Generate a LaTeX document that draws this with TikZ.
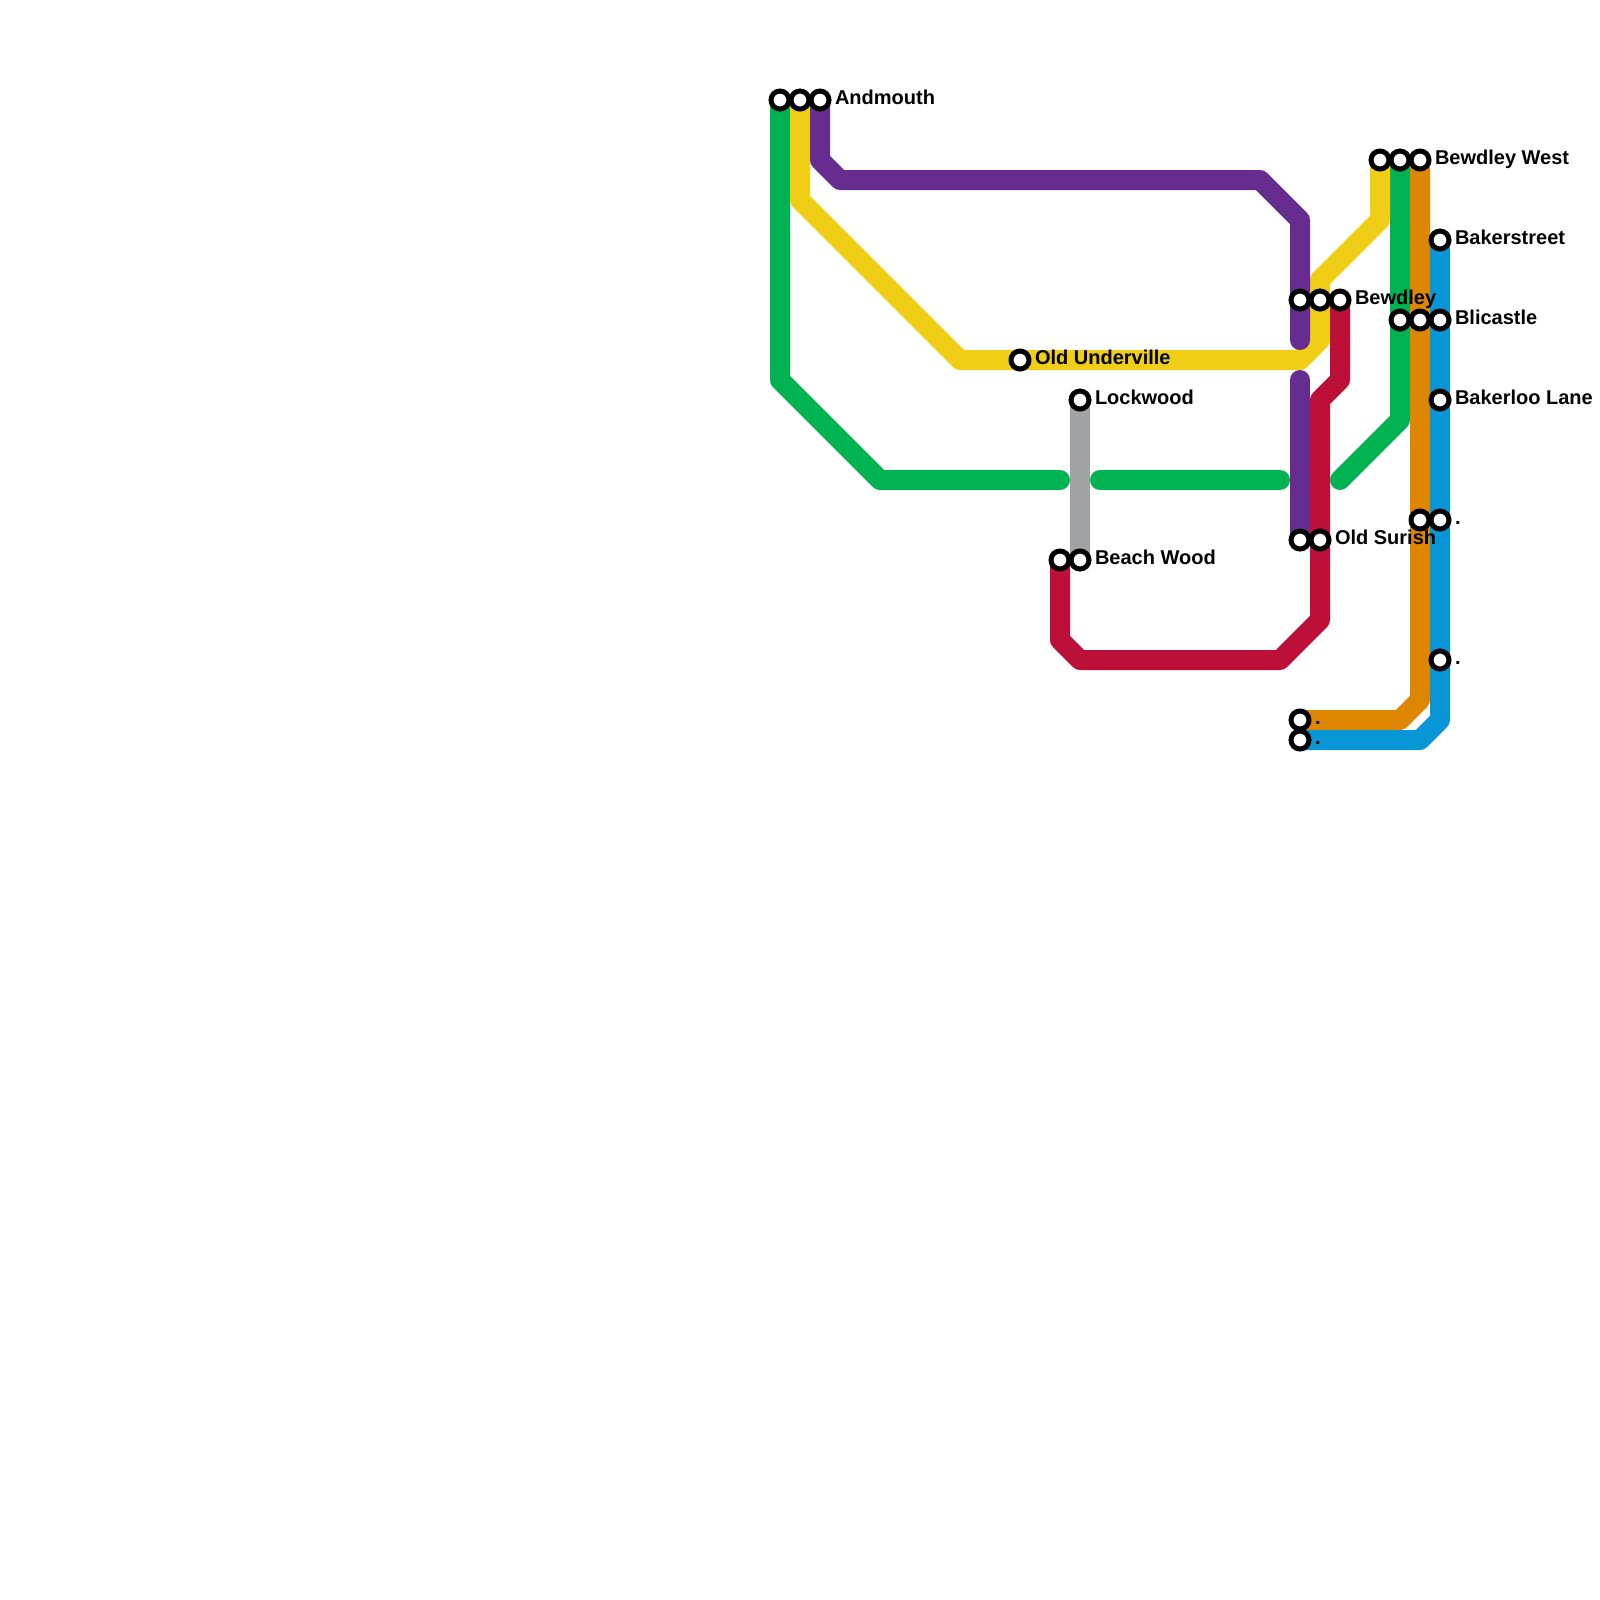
\documentclass[tikz,border=0pt]{standalone}
\usepackage{fontspec}
\setmainfont{Liberation Sans}
\usepackage{xcolor}
\usetikzlibrary{positioning, backgrounds}
\definecolor{gline}{HTML}{00B251}
\definecolor{yline}{HTML}{F0CE15}
\definecolor{pline}{HTML}{662C90}
\definecolor{rline}{HTML}{BD1038}
\definecolor{oline}{HTML}{DF8600}
\definecolor{bline}{HTML}{0896D7}
\definecolor{sline}{HTML}{A1A2A3}

\begin{document}
\begin{tikzpicture}[x=0.2cm, y=-0.2cm, node distance=0.2cm,
    stn/.style = {draw, circle, fill=white, line width=0.05cm, minimum size=0.18cm, inner sep=0pt},
    lbl/.style = {font=\fontsize{5.69}{6}\selectfont\bfseries, inner sep=0pt, outer sep=0pt, text height=0.14cm, text depth=0.04cm, yshift=0.005cm},
    track/.style = {line width=0.2cm, line cap=round, line join=round}]
    \useasboundingbox (0,0) rectangle (80,80);

    % bends
    \coordinate (g1) at (39,19);
    \coordinate (g2) at (44,24);
    \coordinate (g3) at (53,24);
    \coordinate (g4) at (55,24);
    \coordinate (g5) at (64,24);
    \coordinate (g6) at (67,24);
    \coordinate (g7) at (70,21);
    \coordinate (y1) at (40,10);
    \coordinate (y2) at (48,18);
    \coordinate (y3) at (65,18);
    \coordinate (y4) at (66,17);
    \coordinate (y5) at (66,14);
    \coordinate (y6) at (69,11);
    \coordinate (p1) at (41,8);
    \coordinate (p2) at (42,9);
    \coordinate (p3) at (63,9);
    \coordinate (p4) at (65,11);
    \coordinate (p5) at (65,17);
    \coordinate (p6) at (65,19);
    \coordinate (r1) at (67,19);
    \coordinate (r2) at (66,20);
    \coordinate (r3) at (66,31);
    \coordinate (r4) at (64,33);
    \coordinate (r5) at (54,33);
    \coordinate (r6) at (53,32);
    \coordinate (o1) at (71,35);
    \coordinate (o2) at (70,36);
    \coordinate (b1) at (72,36);
    \coordinate (b2) at (71,37);

    % stations
    \node[stn] (and1) at (39,5) {};
    \node[stn] (and2) [right of=and1] {};
    \node[stn] (and3) [right of=and2] {};
    \node[stn] (wes1) at (69,8) {};
    \node[stn] (wes2) [right of=wes1] {};
    \node[stn] (wes3) [right of=wes2] {};
    \node[stn] (bak) at (72,12) {};
    \node[stn] (bew1) at (65,15) {};
    \node[stn] (bew2) [right of=bew1] {};
    \node[stn] (bew3) [right of=bew2] {};
    \node[stn] (bli1) at (70,16) {};
    \node[stn] (bli2) [right of=bli1] {};
    \node[stn] (bli3) [right of=bli2] {};
    \node[stn] (und) at (51,18) {};
    \node[stn] (loc) at (54,20) {};
    \node[stn] (lan) at (72,20) {};
    \node[stn] (dot1) at (71,26) {};
    \node[stn] (dot2) [right of=dot1] {};
    \node[stn] (sur1) at (65,27) {};
    \node[stn] (sur2) [right of=sur1] {};
    \node[stn] (bea1) at (53,28) {};
    \node[stn] (bea2) [right of=bea1] {};
    \node[stn] (dot3) at (72,33) {};
    \node[stn] (dot4) at (65,36) {};
    \node[stn] (dot5) [below of=dot4] {};

    % lines
    \begin{scope}[on background layer]
        \draw[track, gline] (and1.center) -- (g1) -- (g2) -- (g3);
        \draw[track, gline] (g4) -- (g5);
        \draw[track, gline] (g6) -- (g7) -- (wes2.center);
        \draw[track, yline] (and2.center) -- (y1) -- (y2) -- (y3) -- (y4) -- (y5) -- (y6) -- (wes1.center);
        \draw[track, pline] (and3.center) -- (p1) -- (p2) -- (p3) -- (p4) -- (p5);
        \draw[track, pline] (p6) -- (sur1.center);
        \draw[track, rline] (bew3.center) -- (r1) -- (r2) -- (r3) -- (r4) -- (r5) -- (r6) -- (bea1.center);
        \draw[track, sline] (loc.center) -- (bea2.center);
        \draw[track, oline] (wes3.center) -- (o1) -- (o2) -- (dot4.center);
        \draw[track, bline] (bak.center) -- (b1) -- (b2) -- (dot5.center);
    \end{scope}

    % labels
    \node[lbl] (l1) [right=0.035cm of and3] {Andmouth};
    \node[lbl] (l2) [right=0.035cm of wes3] {Bewdley West};
    \node[lbl] (l3) [right=0.035cm of bak] {Bakerstreet};
    \node[lbl] (l4) [right=0.035cm of bew3] {Bewdley};
    \node[lbl] (l5) [right=0.035cm of bli3] {Blicastle};
    \node[lbl] (l6) [right=0.035cm of und] {Old Underville};
    \node[lbl] (l7) [right=0.035cm of loc] {Lockwood};
    \node[lbl] (l8) [right=0.035cm of lan] {Bakerloo Lane};
    \node[lbl] (l9) [right=0.035cm of dot2] {.};
    \node[lbl] (l10) [right=0.035cm of sur2] {Old Surish};
    \node[lbl] (l11) [right=0.035cm of bea2] {Beach Wood};
    \node[lbl] (l12) [right=0.035cm of dot3] {.};
    \node[lbl] (l13) [right=0.035cm of dot4] {.};
    \node[lbl] (l14) [right=0.035cm of dot5] {.};
\end{tikzpicture}
\end{document}
